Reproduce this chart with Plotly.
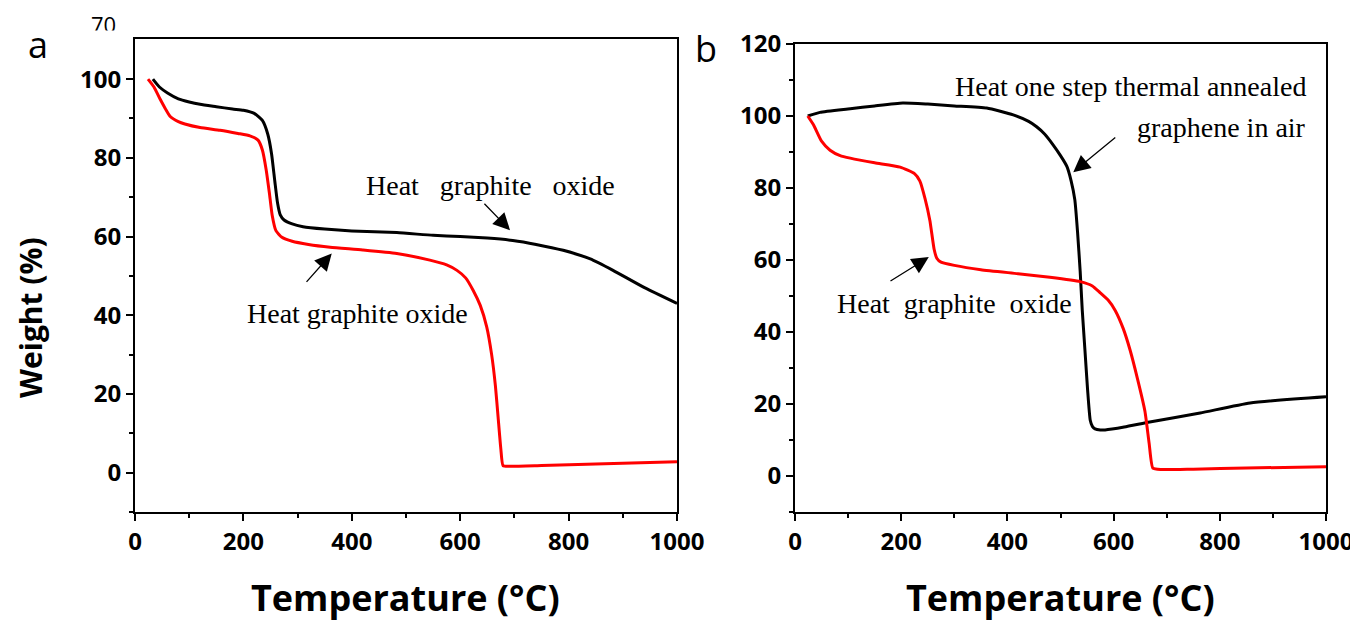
import plotly.graph_objects as go

# the page puts the figure 8 px from the top-left corner
OFF = 8
W, H = 1358 - OFF, 621 - OFF

# ---------------- data ----------------
temp_a_black = [33, 45, 60, 80, 100, 120, 150, 180, 200, 220, 235, 245, 252, 258, 263, 268, 275, 290, 310, 350, 400, 483, 550, 600, 650, 697, 740, 790, 840, 882, 940, 1000]
wt_a_black = [100, 98, 96.5, 95, 94.2, 93.6, 93, 92.4, 92.1, 91.3, 89.5, 86, 81, 74, 68.5, 65.5, 64.2, 63.2, 62.5, 61.9, 61.4, 61, 60.3, 60, 59.6, 59, 58, 56.5, 54.3, 51.4, 47, 43]

temp_a_red = [24, 35, 46, 56, 65, 80, 92, 120, 157, 190, 212, 227, 235, 242, 248, 253, 260, 271, 290, 320, 360, 420, 483, 544, 575, 594, 610, 624, 637, 649, 658, 665, 670, 675, 679, 690, 750, 850, 1000]
wt_a_red = [100, 98, 95, 92.5, 90.5, 89.2, 88.6, 87.7, 87, 86.2, 85.6, 84.5, 82, 77, 71, 65.5, 61.5, 59.8, 58.8, 58, 57.3, 56.6, 55.7, 54, 52.8, 51.4, 49.5, 46.3, 42.5, 37, 30, 22, 14, 6, 1.8, 1.6, 1.8, 2.2, 2.8]

temp_b_black = [24, 47, 104, 150, 203, 250, 300, 361, 411, 440, 455, 470, 486, 500, 512, 520, 527, 532, 537, 541, 546, 551, 556, 560, 565, 575, 584, 620, 668, 763, 857, 1000]
wt_b_black = [100, 101, 102, 102.8, 103.6, 103.3, 102.8, 102.2, 100.3, 98.5, 97, 95, 92, 89, 86, 82, 76.7, 68, 57, 46, 35, 24, 15.5, 13.8, 13.1, 12.8, 12.8, 13.6, 15, 17.5, 20.3, 22]

temp_b_red = [24, 35, 50, 66, 85, 104, 150, 198, 225, 235, 245, 254, 262, 267, 275, 300, 350, 420, 480, 537, 560, 574, 590, 603, 618, 631, 645, 659, 667, 674, 690, 750, 850, 1000]
wt_b_red = [100, 97.5, 93, 90.5, 89, 88.3, 87, 85.8, 84, 82, 77, 71, 63, 60.5, 59.4, 58.5, 57.3, 56.2, 55.2, 54, 52.8, 51, 48.8, 46, 41, 35, 27, 18, 9, 2.2, 1.8, 1.9, 2.2, 2.6]

x_ticks = [0, 200, 400, 600, 800, 1000]
y_ticks_a = [0, 20, 40, 60, 80, 100]
y_ticks_b = [0, 20, 40, 60, 80, 100, 120]

# ---------------- figure ----------------
fig = go.Figure()
LW = 3
def line(color):
    return dict(color=color, width=LW, shape="spline", smoothing=0.5)

fig.add_trace(go.Scatter(x=temp_a_black, y=wt_a_black, mode="lines", line=line("black"), xaxis="x", yaxis="y"))
fig.add_trace(go.Scatter(x=temp_a_red, y=wt_a_red, mode="lines", line=line("#ff0000"), xaxis="x", yaxis="y"))
fig.add_trace(go.Scatter(x=temp_b_black, y=wt_b_black, mode="lines", line=line("black"), xaxis="x2", yaxis="y2"))
fig.add_trace(go.Scatter(x=temp_b_red, y=wt_b_red, mode="lines", line=line("#ff0000"), xaxis="x2", yaxis="y2"))

def px_x(p):
    return (p - OFF) / W

def px_y(p):
    return (H - (p - OFF)) / H

tickfont = dict(family="Open Sans", size=24, color="black", weight="bold")
common = dict(showgrid=False, zeroline=False, showline=True, linecolor="black", linewidth=2,
              mirror=True, ticks="outside", ticklen=7, tickwidth=2, tickcolor="black",
              tickfont=tickfont, automargin=False)

fig.update_layout(
    template="none",
    width=W, height=H, autosize=False, margin=dict(l=0, r=0, t=0, b=0, pad=0),
    paper_bgcolor="white", plot_bgcolor="white", showlegend=False,
    xaxis=dict(domain=[px_x(135), px_x(677)], range=[0, 1000], tickvals=x_ticks,
               minor=dict(dtick=100, ticklen=4, tickwidth=2, tickcolor="black", ticks="outside"),
               anchor="y", **common),
    yaxis=dict(domain=[px_y(512), px_y(39)], range=[-10, 110.2], tickvals=y_ticks_a,
               minor=dict(tickvals=[-10, 10, 30, 50, 70, 90], ticklen=4, tickwidth=2, tickcolor="black", ticks="outside"),
               anchor="x", **common),
    xaxis2=dict(domain=[px_x(795), px_x(1326)], range=[0, 1000], tickvals=x_ticks,
                minor=dict(dtick=100, ticklen=4, tickwidth=2, tickcolor="black", ticks="outside"),
                anchor="y2", **common),
    yaxis2=dict(domain=[px_y(512), px_y(44)], range=[-10, 120], tickvals=y_ticks_b,
                minor=dict(tickvals=[-10, 10, 30, 50, 70, 90, 110], ticklen=4, tickwidth=2, tickcolor="black", ticks="outside"),
                anchor="x2", **common),
)

serif = dict(family="Liberation Serif", size=28, color="black")
titlefont = dict(family="Open Sans", size=36, color="black", weight="bold")
nb = "\u00a0"

def txt(text, x, y, font, xanchor="center", **kw):
    return dict(text=text, x=px_x(x), y=px_y(y), xref="paper", yref="paper", showarrow=False,
                xanchor=xanchor, yanchor="middle", font=font, **kw)

ann = [
    # stray tick label at top of panel a (partly hidden)
    txt("70", 103, 24, dict(family="Open Sans", size=22, color="black")),
    dict(text=nb, x=px_x(103), y=px_y(30), xref="paper", yref="paper", showarrow=False,
         xanchor="center", yanchor="top", width=40, height=8, bgcolor="white",
         font=dict(size=6)),
    # panel letters
    txt("a", 38, 45, dict(family="Open Sans", size=36, color="black")),
    txt("b", 706, 48, dict(family="Open Sans", size=36, color="black")),
    # axis titles
    txt("Weight (%)", 30, 318, dict(family="Open Sans", size=30, color="black", weight="bold"), textangle=-90),
    txt("Temperature (°C)", 405, 597, titlefont),
    txt("Temperature (°C)", 1060, 597, titlefont),
    # labels panel a
    txt(f"Heat{nb*3}graphite{nb*3}oxide", 491, 185, serif),
    txt("Heat graphite oxide", 357, 313, serif),
    # labels panel b
    txt("Heat one step thermal annealed", 1308, 86, serif, xanchor="right"),
    txt("graphene in air", 1308, 128, serif, xanchor="right"),
    txt(f"Heat{nb*2}graphite{nb*2}oxide", 954, 303, serif),
]

arrow_style = dict(showarrow=True, arrowhead=2, arrowsize=2.6, arrowwidth=1.3, arrowcolor="black", text="")
# arrows (tip, tail) in data coordinates
ann += [
    dict(x=692, y=61.6, ax=642, ay=68.7, xref="x", yref="y", axref="x", ayref="y", **arrow_style),
    dict(x=363, y=55.7, ax=314, ay=48.1, xref="x", yref="y", axref="x", ayref="y", **arrow_style),
    dict(x=524, y=84.4, ax=606, ay=94.4, xref="x2", yref="y2", axref="x2", ayref="y2", **arrow_style),
    dict(x=252, y=60.8, ax=177, ay=53.9, xref="x2", yref="y2", axref="x2", ayref="y2", **arrow_style),
]

fig.update_layout(annotations=ann)
fig.write_html("out.html")
